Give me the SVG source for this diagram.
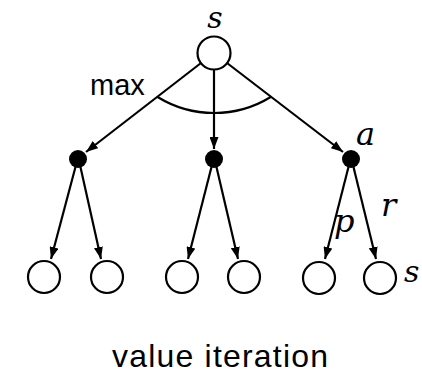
<svg xmlns="http://www.w3.org/2000/svg" width="422" height="376" viewBox="0 0 422 376">
<style>
.st{fill:#fff;stroke:#000;stroke-width:2.2}
.ac{fill:#000}
.ln{stroke:#000;stroke-width:2.2;fill:none}
.it{font-family:"DejaVu Serif","Liberation Serif",serif;font-style:italic;fill:#000}
.sn{font-family:"Liberation Sans",Arial,sans-serif;fill:#000}
</style>
<defs>
<marker id="ah" markerUnits="userSpaceOnUse" markerWidth="12" markerHeight="9" refX="12" refY="4.5" orient="auto">
<path d="M0,0 L12,4.5 L0,9 z" fill="#000"/>
</marker>
</defs>
<rect width="422" height="376" fill="#fff"/>
<g id="connectors">
<line class="ln" x1="201" y1="63" x2="86" y2="152" marker-end="url(#ah)"/>
<line class="ln" x1="214" y1="70" x2="214" y2="149" marker-end="url(#ah)"/>
<line class="ln" x1="227" y1="63" x2="343" y2="152" marker-end="url(#ah)"/>
<path class="ln" d="M157.6,97 A108,108 0 0 0 270.7,97"/>
<line class="ln" x1="76" y1="165" x2="51" y2="259" marker-end="url(#ah)"/>
<line class="ln" x1="80" y1="165" x2="101" y2="259" marker-end="url(#ah)"/>
<line class="ln" x1="212" y1="165" x2="188" y2="259" marker-end="url(#ah)"/>
<line class="ln" x1="216" y1="165" x2="238" y2="259" marker-end="url(#ah)"/>
<line class="ln" x1="349" y1="165" x2="325" y2="259" marker-end="url(#ah)"/>
<line class="ln" x1="353" y1="165" x2="376" y2="259" marker-end="url(#ah)"/>
</g>
<g id="root"><circle class="st" cx="214" cy="53" r="16.5"/><text class="it" x="215" y="28" font-size="30" text-anchor="middle">s</text></g>
<g id="a1"><circle class="ac" cx="78" cy="159" r="9"/></g>
<g id="a2"><circle class="ac" cx="214" cy="159" r="9"/></g>
<g id="a3"><circle class="ac" cx="351" cy="159" r="9"/><text class="it" x="356" y="145" font-size="32">a</text></g>
<g id="s1"><circle class="st" cx="44" cy="277" r="16"/></g>
<g id="s2"><circle class="st" cx="107" cy="277" r="16"/></g>
<g id="s3"><circle class="st" cx="182" cy="277" r="16"/></g>
<g id="s4"><circle class="st" cx="244" cy="277" r="16"/></g>
<g id="s5"><circle class="st" cx="319" cy="278" r="16"/></g>
<g id="s6"><circle class="st" cx="380" cy="278" r="16"/><text class="it" x="404" y="282" font-size="30">s</text></g>
<g id="labels">
<text class="sn" x="90" y="95" font-size="29">max</text>
<text class="it" x="334" y="232" font-size="32">p</text>
<text class="it" x="381" y="216" font-size="32">r</text>
<text class="sn" x="112" y="367" font-size="32" textLength="216" lengthAdjust="spacing">value iteration</text>
</g>
</svg>
